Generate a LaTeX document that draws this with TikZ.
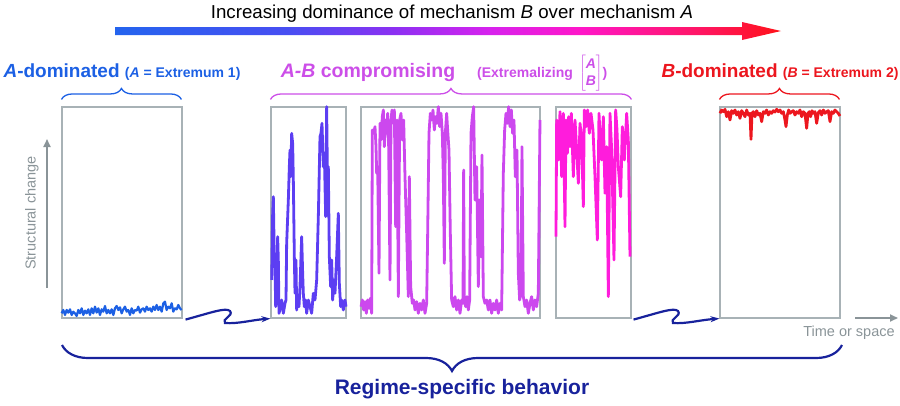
\documentclass[tikz,border=0pt]{standalone}
\usepackage{fontspec}
\setmainfont{Liberation Sans}
\usetikzlibrary{arrows.meta, decorations.pathreplacing}

\definecolor{ablue}{RGB}{28,96,228}
\definecolor{pblue}{RGB}{92,62,242}
\definecolor{orchid}{RGB}{204,72,238}
\definecolor{mgnta}{RGB}{255,28,220}
\definecolor{bred}{RGB}{236,22,30}
\definecolor{navy}{RGB}{24,34,156}
\definecolor{hdrpink}{RGB}{204,78,232}
\definecolor{frame}{RGB}{168,178,182}
\definecolor{axgrey}{RGB}{138,148,152}
% stops of the top arrow
\definecolor{gA}{RGB}{36,100,238}
\definecolor{gB}{RGB}{72,78,242}
\definecolor{gC}{RGB}{140,48,242}
\definecolor{gD}{RGB}{214,34,238}
\definecolor{gE}{RGB}{255,22,200}
\definecolor{gF}{RGB}{255,22,110}
\definecolor{gG}{RGB}{255,18,24}
\pgfdeclarehorizontalshading{domgrad}{100bp}{color(0bp)=(gA); color(25bp)=(gA);
  color(38bp)=(gB); color(46bp)=(gC); color(53bp)=(gD); color(60bp)=(gE);
  color(68bp)=(gF); color(75bp)=(gG); color(100bp)=(gG)}
\newcommand{\hdrsmall}{\fontsize{14}{17}\selectfont}

\begin{document}
\begin{tikzpicture}[x=1pt, y=-1pt,
    ttl/.style={font=\fontsize{18.7}{22}\selectfont},
    hdr/.style={font=\bfseries\fontsize{19}{22}\selectfont, anchor=base, inner sep=0pt},
    panel/.style={draw=frame, line width=1.1pt, minimum height=211pt, inner sep=0pt},
    sig/.style={line width=2.8pt, line join=round, x=0.3333pt, y=-0.3333pt},
    topbrace/.style={decorate, decoration={brace, amplitude=11pt}, line width=1.3pt},
    squig/.style={navy, line width=2.2pt, -{Stealth[length=9pt, width=6pt]}},
    axis/.style={axgrey, line width=1.8pt, -{Triangle[length=8pt, width=7pt]}},
    axlabel/.style={axgrey, font=\fontsize{14.5}{17}\selectfont}]
\useasboundingbox (0,0) rectangle (900,405);

% top arrow
\node[ttl, anchor=base] (title) at (452,18) {Increasing dominance of mechanism \textit{B} over mechanism \textit{A}};
\shade[shading=domgrad] (115,27) -- (742,27) -- (742,22) -- (781,31) -- (742,40) -- (742,35) -- (115,35) -- cycle;

% headers
\node[hdr, ablue] (hA) at (122,77) {\textit{A}-dominated {\hdrsmall(\textit{A} = Extremum 1)}};
\node[hdr, hdrpink, font=\bfseries\fontsize{19.5}{22}\selectfont] (hAB) at (444,77) {\textit{A-B} compromising\hspace{22pt}{\hdrsmall (Extremalizing\,
  $\left[\begin{tabular}{@{}c@{}}\textit{A}\\[0pt]\textit{B}\end{tabular}\right]$)}};
\node[hdr, bred] (hB) at (780,77) {\textit{B}-dominated {\hdrsmall(\textit{B} = Extremum 2)}};

% panels
\node[panel, minimum width=120pt] (p1) at (122,212.5) {};
\node[panel, minimum width=75pt] (p2) at (308.5,212.5) {};
\node[panel, minimum width=179pt] (p3) at (450.5,212.5) {};
\node[panel, minimum width=75pt] (p4) at (593.5,212.5) {};
\node[panel, minimum width=120pt] (p5) at (780,212.5) {};

\draw[topbrace, ablue] (p1.north west) ++(0,-7) -- ++(120,0);
\draw[topbrace, hdrpink] (p2.north west) ++(0,-7) -- ++(361,0);
\draw[topbrace, bred] (p5.north west) ++(0,-7) -- ++(120,0);

% signals
\draw[ablue, shift={(0,100)}, sig, line width=2.2pt] plot coordinates {(185,640) (190,630) (195,645) (200,630)
  (205,638) (210,628) (215,645) (220,635) (225,640) (230,648) (235,630) (240,640) (245,625) (250,645)
  (255,632) (260,640) (265,628) (270,645) (275,625) (280,640) (285,620) (290,638) (295,625) (300,645)
  (305,628) (310,635) (315,618) (320,640) (325,630) (330,640) (335,628) (340,645) (345,625) (350,618)
  (355,630) (360,622) (365,640) (370,628) (375,620) (380,635) (385,630) (390,645) (395,625) (400,640)
  (405,630) (410,632) (415,620) (420,638) (425,628) (430,625) (435,635) (440,620) (445,630) (450,625)
  (455,635) (460,620) (465,630) (470,615) (475,630) (480,620) (485,635) (490,610) (495,605) (500,630)
  (505,620) (510,625) (515,610) (520,635) (525,625) (530,628) (535,615) (540,625) (545,630)};
\draw[pblue, shift={(260,100)}, sig] plot coordinates {(35,540) (38,340) (40,290) (43,480) (45,500)
  (47,620) (50,590) (53,410) (55,480) (57,640) (62,620) (65,600) (70,640) (75,610) (78,600) (80,430)
  (85,300) (88,200) (90,150) (92,230) (95,100) (98,130) (100,240) (103,470) (105,580) (108,480)
  (110,630) (113,600) (117,620) (120,560) (125,410) (128,520) (130,580) (133,620) (137,600) (140,640)
  (145,600) (150,620) (155,640) (160,580) (165,600) (170,540) (175,350) (180,110) (183,100) (186,70)
  (190,200) (193,160) (197,350) (200,20) (203,300) (205,200) (208,470) (212,560) (215,480) (218,600)
  (222,540) (225,580) (230,470) (235,340) (238,550) (242,620) (245,600) (250,630) (255,600) (258,620)};
\draw[orchid, shift={(355,100)}, sig] plot coordinates {(18,620) (22,600) (26,630) (30,605) (34,640)
  (38,600) (42,625) (46,595) (50,640) (52,90) (56,100) (60,80) (63,140) (65,220) (68,200) (72,520)
  (75,70) (78,120) (82,50) (85,30) (88,140) (92,60) (95,100) (98,40) (101,140) (105,540) (108,60)
  (111,30) (115,70) (118,30) (122,380) (126,60) (130,590) (134,60) (138,40) (142,120) (146,60)
  (150,230) (155,400) (160,590) (163,230) (167,560) (172,610) (176,600) (180,630) (185,605) (190,640)
  (195,610) (200,630) (205,600) (210,640) (215,610) (218,400) (222,100) (226,40) (230,60) (234,30)
  (238,90) (242,50) (246,70) (250,20) (254,80) (258,40) (262,100) (265,230) (268,490) (271,100)
  (275,40) (278,90) (282,150) (286,400) (290,600) (295,620) (300,590) (305,630) (310,600) (315,640)
  (320,600) (324,610) (326,210) (328,600) (332,620) (336,590) (340,630) (344,600) (348,100) (352,50)
  (356,20) (360,300) (365,200) (370,560) (374,300) (378,470) (381,165) (385,590) (390,610) (395,600)
  (400,630) (405,600) (410,640) (415,610) (420,630) (425,600) (430,640) (435,610) (440,630) (445,220)
  (449,90) (453,40) (457,70) (461,20) (465,80) (469,30) (473,100) (477,60) (481,230) (486,150)
  (490,520) (494,600) (498,580) (501,140) (505,590) (510,620) (515,600) (520,640) (525,610) (530,590)
  (535,630) (540,600) (545,620) (550,580) (555,60)};
\draw[mgnta, shift={(545,100)}, sig] plot coordinates {(33,410) (35,60) (40,180) (45,35) (50,230)
  (55,40) (60,380) (63,60) (67,160) (71,50) (75,140) (79,40) (85,230) (90,60) (95,150) (100,250)
  (105,70) (110,120) (115,320) (118,30) (123,80) (128,30) (133,100) (138,40) (144,90) (150,230)
  (157,420) (162,40) (166,120) (170,180) (175,50) (180,280) (185,140) (190,590) (195,40) (200,150)
  (207,480) (212,30) (216,90) (220,200) (227,290) (232,80) (238,180) (245,40) (250,120) (255,470)};
\draw[bred, shift={(710,80)}, sig] plot coordinates {(30,100) (35,90) (40,95) (45,88) (50,110) (55,95)
  (60,120) (65,92) (70,100) (75,90) (80,105) (85,95) (90,115) (95,92) (100,100) (105,110) (110,90)
  (115,105) (120,100) (123,178) (126,100) (130,95) (135,110) (140,92) (145,105) (150,100) (155,125)
  (160,95) (165,100) (170,90) (175,105) (180,95) (185,100) (190,92) (195,96) (200,88) (205,95)
  (210,90) (215,100) (220,95) (225,120) (228,140) (232,105) (236,90) (240,100) (245,95) (250,92)
  (255,105) (260,95) (265,100) (270,90) (275,110) (280,95) (285,100) (290,145) (294,100) (298,95)
  (302,110) (306,92) (310,100) (315,95) (320,130) (325,98) (330,92) (335,105) (340,90) (345,100)
  (350,95) (355,92) (360,125) (365,95) (370,100) (375,90) (380,95) (385,100) (390,108)};

% regime changes
\draw[squig] ([xshift=3pt, yshift=-1pt]p1.south east) .. controls (210,313) and (226,307) .. (230,311)
  .. controls (234,316) and (221,319) .. (225,323) .. controls (238,324) and (252,320) .. (p2.south west);
\draw[squig] ([xshift=2pt, yshift=-1pt]p4.south east) .. controls (658,313) and (674,307) .. (678,311)
  .. controls (682,316) and (669,319) .. (673,323) .. controls (686,324) and (700,320) .. (p5.south west);

% axes
\coordinate (ybot) at (47,288);
\coordinate (ytop) at (47,139);
\draw[axis] (ybot) -- (ytop);
\node[axlabel, rotate=90] (ylab) at (32,213) {Structural change};
\coordinate (tbeg) at (855,318);
\coordinate (tend) at (898,318);
\draw[axis] (tbeg) -- (tend);
\node[axlabel] (tlab) at (849,333) {Time or space};

% bottom
\draw[navy, decorate, decoration={brace, amplitude=26pt}, line width=2.2pt] (842,345) -- (62,345);
\node[navy, font=\bfseries\fontsize{21}{25}\selectfont, anchor=base] (regime) at (462,394) {Regime-specific behavior};
\end{tikzpicture}
\end{document}
